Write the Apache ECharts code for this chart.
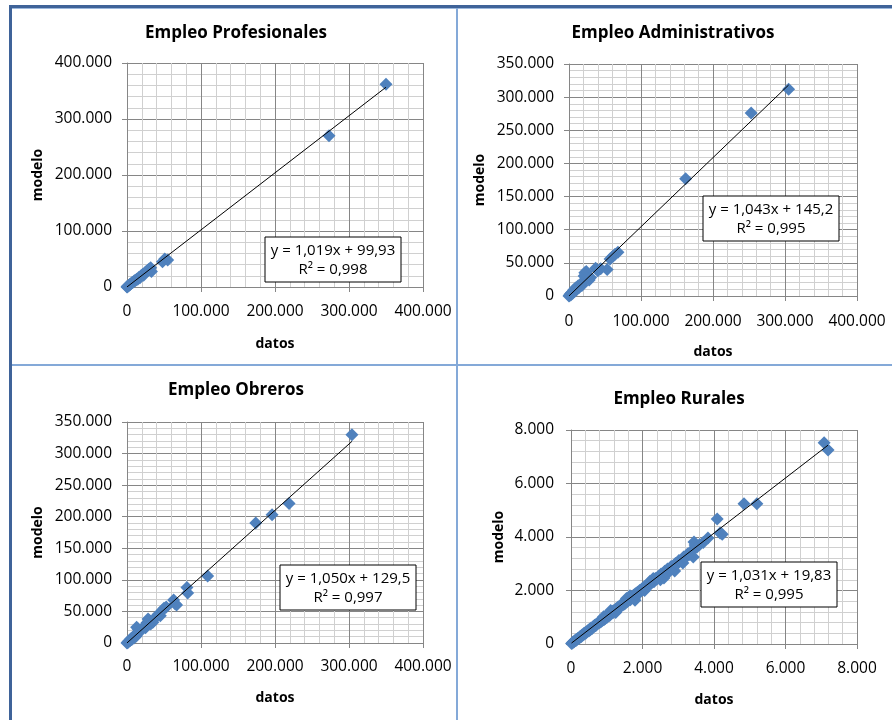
<!DOCTYPE html>
<html>
<head>
<meta charset="utf-8">
<script src="https://cdn.jsdelivr.net/npm/echarts@6/dist/echarts.min.js"></script>
<style>
html,body{margin:0;padding:0;background:#fff;}
#c{width:892px;height:720px;}
</style>
</head>
<body>
<div id="c"></div>
<script>
// ---------- data ----------
const panelTitles = ['Empleo Profesionales', 'Empleo Administrativos', 'Empleo Obreros', 'Empleo Rurales'];
const xAxisName = 'datos';
const yAxisName = 'modelo';

const profesionales = [[0,0],[300,500],[800,1200],[1500,1800],[2500,2600],[3500,4200],[4500,4800],[6000,6500],[7000,8200],[8500,8800],[10000,11000],[11500,11800],[13000,14000],[14500,13800],[16000,17000],[17500,16500],[19000,20000],[21000,22500],[22500,21000],[24000,25000],[26000,27500],[28000,30000],[30000,32000],[32000,34500],[33000,27500],[48000,45000],[51000,50000],[55000,48000],[273000,270000],[350000,362000]];
const administrativos = [[0,0],[500,600],[1500,2500],[2500,1500],[3500,5000],[5000,4000],[6500,9000],[8000,7000],[9000,12000],[11000,10000],[12500,15000],[14000,13000],[16000,18000],[18000,16000],[20000,21000],[21000,30000],[22000,35000],[24000,37000],[25000,27000],[28000,24000],[30000,28000],[37000,42000],[40000,38000],[44000,41000],[53000,40000],[57000,56000],[61000,60000],[64000,63000],[68000,66000],[162000,177000],[253000,276000],[305000,312000]];
const obreros = [[0,0],[500,800],[1500,1200],[2500,3000],[4000,3500],[5000,6500],[6500,5500],[8000,9000],[9500,8000],[11000,13000],[12500,11000],[13000,25000],[15000,22000],[17000,18000],[19000,20000],[21000,23000],[23000,26000],[25000,24000],[27000,32000],[28500,38000],[30000,36000],[32000,30000],[35000,33000],[38000,40000],[42000,45000],[45000,43000],[48000,52000],[50000,55000],[53000,57000],[63000,68000],[65000,62000],[67000,60000],[81000,88000],[82000,79000],[109000,106000],[174000,190000],[196000,203000],[219000,221000],[304000,330000]];
const rurales = [[15,20],[40,35],[60,75],[85,80],[110,120],[130,150],[150,140],[175,190],[200,215],[220,210],[245,260],[270,290],[290,280],[310,335],[340,345],[360,390],[380,370],[400,430],[420,410],[450,470],[470,500],[500,490],[520,550],[540,530],[560,600],[590,580],[610,640],[640,650],[660,700],[690,680],[710,740],[740,760],[760,790],[790,800],[810,860],[830,820],[850,900],[870,880],[900,960],[910,1020],[920,910],[940,990],[960,950],[990,1050],[1010,1000],[1040,1090],[1060,1120],[1080,1070],[1100,1160],[1110,1250],[1130,1140],[1160,1220],[1180,1180],[1210,1260],[1240,1250],[1250,1180],[1260,1320],[1290,1310],[1320,1380],[1340,1340],[1370,1430],[1400,1420],[1420,1490],[1450,1460],[1480,1540],[1500,1500],[1530,1600],[1550,1700],[1560,1570],[1580,1660],[1610,1630],[1640,1710],[1650,1800],[1660,1650],[1690,1760],[1720,1740],[1750,1820],[1780,1720],[1790,1640],[1800,1880],[1830,1850],[1860,1930],[1890,1920],[1920,2000],[1950,1960],[1980,2060],[2010,2030],[2050,2140],[2060,2000],[2080,2100],[2120,2200],[2160,2180],[2200,2280],[2210,2350],[2240,2260],[2280,2360],[2300,2450],[2320,2330],[2360,2450],[2400,2430],[2440,2520],[2480,2500],[2500,2400],[2520,2620],[2560,2580],[2600,2470],[2620,2720],[2660,2690],[2700,2800],[2710,2650],[2750,2770],[2800,2900],[2850,2860],[2900,2730],[2920,3010],[2970,2990],[3020,3120],[3080,3100],[3130,3030],[3150,3250],[3200,3220],[3260,3360],[3320,3350],[3380,3500],[3420,3250],[3440,3810],[3470,3700],[3520,3620],[3600,3720],[3700,3790],[3830,3960],[4090,4670],[4170,4150],[4230,4100],[4840,5240],[5200,5240],[7080,7520],[7190,7250]];

const trendSlopes = [1.019, 1.043, 1.050, 1.031];
const trendIntercepts = [99.93, 145.2, 129.5, 19.83];
const trendEquations = ['y = 1,019x + 99,93', 'y = 1,043x + 145,2', 'y = 1,050x + 129,5', 'y = 1,031x + 19,83'];
const trendR2 = ['R² = 0,998', 'R² = 0,995', 'R² = 0,997', 'R² = 0,995'];

const xMax = [400000, 400000, 400000, 8000];
const xInterval = [100000, 100000, 100000, 2000];
const yMax = [400000, 350000, 350000, 8000];
const yInterval = [100000, 50000, 50000, 2000];

// ---------- layout / style ----------
const seriesData = [profesionales, administrativos, obreros, rurales];
const FONT = '"Open Sans", Lato, sans-serif';
const grids = [
  {left:127, top:63, width:296, height:224},
  {left:569, top:64, width:288, height:232},
  {left:127, top:422, width:296, height:221},
  {left:571, top:430, width:286, height:214}
];
const titlePos = [[236,33],[673,33],[236,390],[679,399]];
const boxPos = [[265,237],[703,196],[280,565],[701,562]];
const xNameGap = [50,49,48,49];
const yNameGap = [82,82,82,65];
const yLabelMargin = [15,15,15,17];
const xLabelMargin = [17,18,16,17];

const fmt = v => String(Math.round(v)).replace(/\B(?=(\d{3})+(?!\d))/g, '.');

function trendLine(data, m, b) {
  let mn = Infinity, mx = -Infinity;
  data.forEach(p => { if (p[0] < mn) mn = p[0]; if (p[0] > mx) mx = p[0]; });
  return [[mn, m*mn + b], [mx, m*mx + b]];
}

const MAJOR = '#868686', MINOR = '#d0d0d0';
function axisCommon(i, max, interval, isX) {
  return {
    type:'value', gridIndex:i, min:0, max:max, interval:interval,
    name: isX ? xAxisName : yAxisName,
    nameLocation:'middle',
    nameGap: isX ? xNameGap[i] : yNameGap[i],
    nameTextStyle:{fontFamily:FONT, fontWeight:'bold', fontSize:14, color:'#000'},
    axisLine:{show:true, onZero:false, lineStyle:{color:MAJOR, width:1}},
    axisTick:{show:true, inside:false, length:5, lineStyle:{color:MAJOR}},
    axisLabel:{formatter:fmt, fontFamily:FONT, fontSize:15.5, color:'#000', margin: isX ? xLabelMargin[i] : yLabelMargin[i]},
    splitLine:{show:true, lineStyle:{color:MAJOR, width:1}},
    minorTick:{show:false, splitNumber:5},
    minorSplitLine:{show:true, lineStyle:{color:MINOR, width:1}}
  };
}

const xAxes = [], yAxes = [], series = [], graphic = [];
for (let i = 0; i < 4; i++) {
  xAxes.push(axisCommon(i, xMax[i], xInterval[i], true));
  yAxes.push(axisCommon(i, yMax[i], yInterval[i], false));
  series.push({
    type:'scatter', xAxisIndex:i, yAxisIndex:i, data:seriesData[i],
    symbol:'diamond', symbolSize:13, itemStyle:{color:'#4f81bd', opacity:1}, z:2, silent:true
  });
  series.push({
    type:'line', xAxisIndex:i, yAxisIndex:i,
    data: trendLine(seriesData[i], trendSlopes[i], trendIntercepts[i]),
    showSymbol:false, symbol:'none', lineStyle:{color:'#000', width:1}, z:3, silent:true
  });
  graphic.push({
    type:'text', x:titlePos[i][0], y:titlePos[i][1], z:100,
    style:{text:panelTitles[i], font:'bold 17px ' + FONT, fill:'#000', align:'center', verticalAlign:'middle'}
  });
  graphic.push({
    type:'rect', x:boxPos[i][0], y:boxPos[i][1], z:100,
    shape:{x:0, y:0, width:136, height:45}, style:{fill:'#fff', stroke:'#000', lineWidth:1}
  });
  graphic.push({
    type:'text', x:boxPos[i][0] + 68, y:boxPos[i][1] + 14, z:101,
    style:{text:trendEquations[i], font:'15px ' + FONT, fill:'#000', align:'center', verticalAlign:'middle'}
  });
  graphic.push({
    type:'text', x:boxPos[i][0] + 68, y:boxPos[i][1] + 33, z:101,
    style:{text:trendR2[i], font:'15px ' + FONT, fill:'#000', align:'center', verticalAlign:'middle'}
  });
}
// frame lines
graphic.push({type:'rect', shape:{x:9, y:5, width:883, height:3}, style:{fill:'#3f6399'}, z:120});
graphic.push({type:'rect', shape:{x:9, y:8, width:883, height:1}, style:{fill:'#9bb7dc'}, z:120});
graphic.push({type:'rect', shape:{x:9, y:5, width:3, height:715}, style:{fill:'#3f6399'}, z:120});
graphic.push({type:'rect', shape:{x:456, y:8, width:2, height:712}, style:{fill:'#84a9d8'}, z:120});
graphic.push({type:'rect', shape:{x:12, y:364, width:880, height:2}, style:{fill:'#84a9d8'}, z:120});

const chart = echarts.init(document.getElementById('c'), null, {renderer:'canvas'});
chart.setOption({
  backgroundColor:'#fff',
  animation:false,
  grid:grids,
  xAxis:xAxes,
  yAxis:yAxes,
  series:series,
  graphic:graphic
});
</script>
</body>
</html>
